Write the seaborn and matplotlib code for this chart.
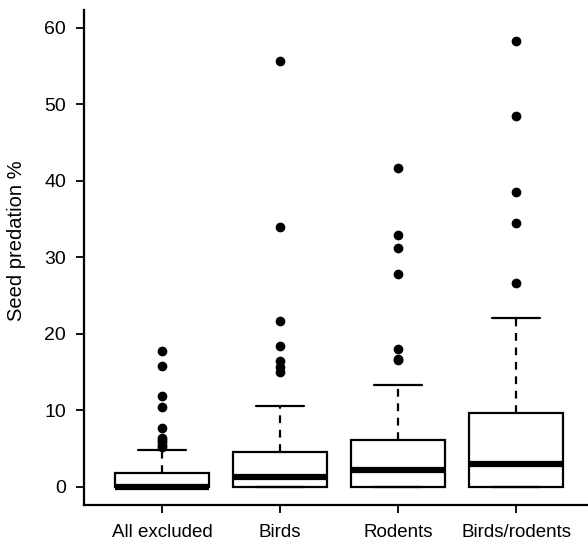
import pandas as pd
import matplotlib.pyplot as plt
import seaborn as sns

# Box statistics (seed predation %)
groups = ['All excluded', 'Birds', 'Rodents', 'Birds/rodents']
whisker_low = [0.0, 0.0, 0.0, 0.0]
q1 = [0.0, 0.0, 0.0, 0.0]
medians = [0.0, 1.3, 2.2, 3.0]
q3 = [1.8, 4.6, 6.1, 9.6]
whisker_high = [4.8, 10.5, 13.3, 22.0]

# Outliers per group
out_all = [5.2, 5.5, 5.8, 6.1, 6.3, 7.7, 10.4, 11.8, 15.8, 17.7]
out_birds = [15.0, 15.7, 16.4, 18.4, 21.7, 34.0, 55.6]
out_rodents = [16.5, 16.7, 18.0, 27.8, 31.2, 32.9, 41.6]
out_both = [26.6, 34.5, 38.5, 48.4, 58.3]
outliers = [out_all, out_birds, out_rodents, out_both]

sns.set_style("ticks")
plt.rcParams['font.family'] = ['Liberation Sans', 'DejaVu Sans']

fig = plt.figure(figsize=(5.88, 5.45), dpi=100)
ax = fig.add_axes([0.1429, 0.0734, 0.8571, 0.9083])

# outlier points through seaborn's categorical axis
fliers = pd.DataFrame({
    'group': [g for g, vals in zip(groups, outliers) for _ in vals],
    'value': [v for vals in outliers for v in vals],
})
sns.stripplot(data=fliers, x='group', y='value', order=groups, jitter=False,
              color='black', size=7, linewidth=0, zorder=5, ax=ax)

stats = []
for i, g in enumerate(groups):
    stats.append({'label': g, 'whislo': whisker_low[i], 'q1': q1[i], 'med': medians[i],
                  'q3': q3[i], 'whishi': whisker_high[i], 'fliers': []})

ax.bxp(stats, positions=range(len(groups)), widths=0.8, capwidths=0.4,
       showfliers=False, patch_artist=True, manage_ticks=False,
       boxprops=dict(facecolor='white', edgecolor='black', linewidth=1.6),
       medianprops=dict(color='black', linewidth=4.5, solid_capstyle='butt'),
       whiskerprops=dict(color='black', linewidth=1.6, linestyle=(0, (3.5, 3))),
       capprops=dict(color='black', linewidth=1.6))

ax.set_xlim(-0.66, 3.61)
ax.set_ylim(-2.39, 62.3)
ax.set_yticks([0, 10, 20, 30, 40, 50, 60])
ax.set_xticks(range(len(groups)))
ax.set_xticklabels(groups)

for s in ['top', 'right']:
    ax.spines[s].set_visible(False)
for s in ['left', 'bottom']:
    ax.spines[s].set_color('black')
    ax.spines[s].set_linewidth(1.6)

ax.tick_params(axis='both', direction='out', length=6, width=1.3, color='black',
               labelsize=14, labelcolor='black')
ax.tick_params(axis='y', pad=7)
ax.tick_params(axis='x', pad=8, labelsize=13.5)

ax.set_xlabel('')
ax.set_ylabel('Seed predation %', fontsize=14.5, color='black')
ax.yaxis.set_label_coords(-0.115, 0.533)

fig.savefig('out.png', dpi=100, facecolor='white')
